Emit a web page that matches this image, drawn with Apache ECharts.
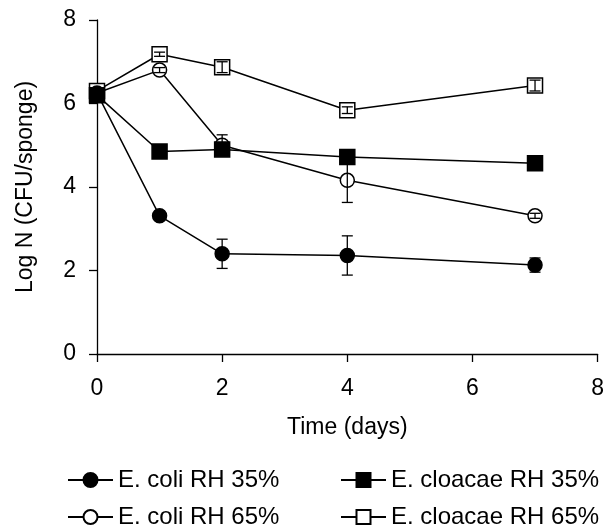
<!DOCTYPE html>
<html>
<head>
<meta charset="utf-8">
<script src="https://cdn.jsdelivr.net/npm/echarts@6/dist/echarts.min.js"></script>
<style>
  html, body { margin: 0; padding: 0; background: #fff; }
  #chart { width: 607px; height: 529px; }
</style>
</head>
<body>
<div id="chart"></div>
<script>
// Sampling days
const days = [0, 1, 2, 4, 7];

// Mean log counts and standard deviations per series
const coli35 = [6.25, 3.31, 2.40, 2.36, 2.13];
const coli35Err = [0.05, 0.05, 0.35, 0.47, 0.17];

const coli65 = [6.25, 6.80, 5.00, 4.16, 3.31];
const coli65Err = [0.05, 0.06, 0.25, 0.53, 0.06];

const cloacae35 = [6.20, 4.85, 4.90, 4.72, 4.57];
const cloacae35Err = [0.05, 0.05, 0.08, 0.05, 0.05];

const cloacae65 = [6.30, 7.18, 6.87, 5.84, 6.43];
const cloacae65Err = [0.05, 0.05, 0.13, 0.08, 0.13];

const names = {
  coli35: 'E. coli RH 35%',
  coli65: 'E. coli RH 65%',
  cloacae35: 'E. cloacae RH 35%',
  cloacae65: 'E. cloacae RH 65%'
};

const FONT = "'Liberation Sans', Arial, sans-serif";
const FS = 23;

function pairs(vals) {
  return days.map((d, i) => [d, vals[i]]);
}

function lineSeries(name, vals, symbol, size, fill, z) {
  return {
    type: 'line',
    name: name,
    data: pairs(vals),
    symbol: symbol,
    symbolSize: size,
    showAllSymbol: true,
    itemStyle: { color: fill, borderColor: '#000', borderWidth: 1.5, opacity: 1 },
    lineStyle: { color: '#000', width: 1.5 },
    emphasis: { disabled: true },
    z: z,
    animation: false
  };
}

// Vertical whiskers with caps at mean ± SD
function errorSeries(name, vals, errs) {
  return {
    type: 'custom',
    name: name + ' SD',
    silent: true,
    z: 10,
    encode: { x: 0, y: [1, 2] },
    data: days.map((d, i) => [d, vals[i] - errs[i], vals[i] + errs[i]]),
    renderItem: function (params, api) {
      const x = api.value(0);
      const lo = api.coord([x, api.value(1)]);
      const hi = api.coord([x, api.value(2)]);
      const w = 5.5;
      const st = { stroke: '#000', lineWidth: 1.3 };
      return {
        type: 'group',
        children: [
          { type: 'line', shape: { x1: lo[0], y1: lo[1], x2: hi[0], y2: hi[1] }, style: st },
          { type: 'line', shape: { x1: lo[0] - w, y1: lo[1], x2: lo[0] + w, y2: lo[1] }, style: st },
          { type: 'line', shape: { x1: hi[0] - w, y1: hi[1], x2: hi[0] + w, y2: hi[1] }, style: st }
        ]
      };
    },
    animation: false
  };
}

const legendBase = {
  orient: 'vertical',
  top: 468,
  height: 61,
  padding: 0,
  itemWidth: 45,
  itemHeight: 17.5,
  itemGap: 13,
  selectedMode: false,
  textStyle: { fontFamily: FONT, fontSize: 24, color: '#000', lineHeight: 23 }
};

const option = {
  backgroundColor: '#fff',
  animation: false,
  textStyle: { fontFamily: FONT },
  grid: { left: 97, right: 7, top: 20, bottom: 175, containLabel: false },
  legend: [
    Object.assign({}, legendBase, { left: 67, data: [names.coli35, names.coli65] }),
    Object.assign({}, legendBase, { left: 340, data: [names.cloacae35, names.cloacae65] })
  ],
  xAxis: {
    type: 'value',
    min: 0, max: 8, interval: 2,
    name: 'Time (days)',
    nameLocation: 'middle',
    nameGap: 62,
    nameTextStyle: { fontFamily: FONT, fontSize: FS, color: '#000' },
    axisLine: { show: true, onZero: false, lineStyle: { color: '#000', width: 1.3 } },
    axisTick: { show: true, inside: false, length: 8, lineStyle: { color: '#000', width: 1.3 } },
    axisLabel: { fontFamily: FONT, fontSize: FS, color: '#000', margin: 23 },
    splitLine: { show: false }
  },
  yAxis: {
    type: 'value',
    min: 0, max: 8, interval: 2,
    name: 'Log N (CFU/sponge)',
    nameLocation: 'middle',
    nameGap: 60,
    nameTextStyle: { fontFamily: FONT, fontSize: FS, color: '#000' },
    axisLine: { show: true, onZero: false, lineStyle: { color: '#000', width: 1.3 } },
    axisTick: { show: true, inside: false, length: 8, lineStyle: { color: '#000', width: 1.3 } },
    axisLabel: { fontFamily: FONT, fontSize: FS, color: '#000', margin: 21 },
    splitLine: { show: false }
  },
  series: [
    lineSeries(names.coli65, coli65, 'circle', 14, '#fff', 2),
    lineSeries(names.cloacae65, cloacae65, 'rect', 15, '#fff', 3),
    lineSeries(names.cloacae35, cloacae35, 'rect', 15, '#000', 4),
    lineSeries(names.coli35, coli35, 'circle', 14, '#000', 5),
    errorSeries(names.coli65, coli65, coli65Err),
    errorSeries(names.cloacae65, cloacae65, cloacae65Err),
    errorSeries(names.cloacae35, cloacae35, cloacae35Err),
    errorSeries(names.coli35, coli35, coli35Err)
  ]
};

const chart = echarts.init(document.getElementById('chart'), null, { renderer: 'canvas' });
chart.setOption(option);
</script>
</body>
</html>
